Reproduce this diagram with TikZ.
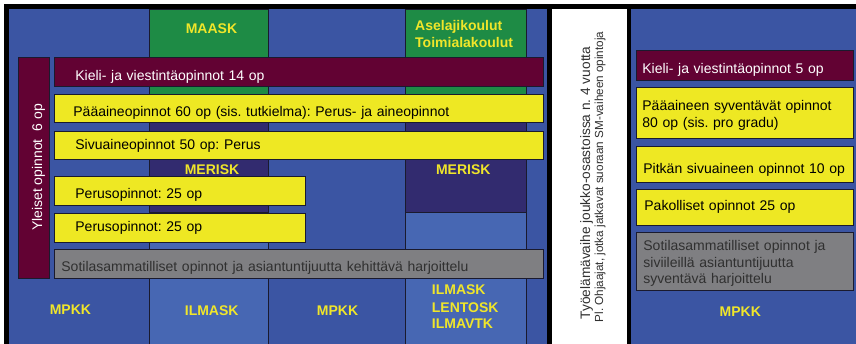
\documentclass[tikz,border=0pt]{standalone}
\usepackage{fontspec}
\setmainfont{Liberation Sans}
\frenchspacing
\definecolor{midblue}{HTML}{3B55A3}
\definecolor{liteblue}{HTML}{4767B3}
\definecolor{schoolgreen}{HTML}{1E8B45}
\definecolor{barmaroon}{HTML}{620233}
\definecolor{deeppurple}{HTML}{322B6F}
\definecolor{baryellow}{HTML}{EEE823}
\definecolor{bargray}{HTML}{7F7F82}
\definecolor{labelyellow}{HTML}{F0E62A}
\definecolor{edgeline}{HTML}{1A1A2E}
\definecolor{graytext}{HTML}{303030}
\begin{document}
\begin{tikzpicture}[x=1pt,y=-1pt,
  strip/.style={draw=edgeline, line width=0.8pt, anchor=north west, inner ysep=0pt, align=left, font=\fontsize{14}{17}\selectfont},
  redstrip/.style={strip, fill=barmaroon, text=white},
  yelstrip/.style={strip, fill=baryellow, text=black},
  graystrip/.style={strip, fill=bargray, text=graytext},
  school/.style={text=labelyellow, font=\bfseries\fontsize{14}{17}\selectfont, inner sep=0pt},
  col/.style={draw=edgeline, line width=0.8pt}
]
\useasboundingbox (0,0) rectangle (856,344);
\fill[white] (0,0) rectangle (856,344);
\fill[black] (4,4) rectangle (856,344);
% panels
\fill[midblue] (9,9) rectangle (547,344);
\fill[white] (552,9) rectangle (627,344);
\fill[midblue] (631,9) rectangle (856,344);
% school columns
\draw[col, fill=schoolgreen] (149,9) rectangle (268,110);
\draw[col, fill=deeppurple] (149,110) rectangle (268,212);
\draw[col, fill=liteblue] (149,212) rectangle (268,345);
\draw[col, fill=schoolgreen] (405,9) rectangle (526,110);
\draw[col, fill=deeppurple] (405,110) rectangle (526,212);
\draw[col, fill=liteblue] (405,212) rectangle (526,345);
% school labels
\node[school, anchor=base] (maask) at (211.5,33.3) {MAASK};
\node[school, anchor=base west] (asela) at (415,31) {Aselajikoulut};
\node[school, anchor=base west] (toimi) at (415,47.7) {Toimialakoulut};
\node[school, anchor=base] (merisk1) at (212,175) {MERISK};
\node[school, anchor=base] (merisk2) at (463.3,175) {MERISK};
\node[school, anchor=base] (mpkk1) at (70.4,315) {MPKK};
\node[school, anchor=base] (ilmask1) at (211.7,316) {ILMASK};
\node[school, anchor=base] (mpkk2) at (337.5,315.7) {MPKK};
\node[school, anchor=base west] (ilmask2) at (431.7,295) {ILMASK};
\node[school, anchor=base west] (lentosk) at (431.7,312.3) {LENTOSK};
\node[school, anchor=base west] (ilmavtk) at (431.7,329) {ILMAVTK};
\node[school, anchor=base] (mpkk3) at (740.3,316.7) {MPKK};
% left panel strips
\node[redstrip, rotate=90, anchor=center, minimum width=221pt, minimum height=31pt, inner sep=0pt, text height=17pt, text depth=0pt] (yleiset) at (33.5,167.5) {Yleiset opinnot\ \ 6 op};
\node[redstrip, minimum height=29pt, inner xsep=21pt, text width=447pt, text height=16.6pt, text depth=0pt] (kieliL) at (54,57) {Kieli- ja viestintäopinnot 14 op};
\node[yelstrip, minimum height=28pt, inner xsep=19pt, text width=451pt, text height=17pt, text depth=0pt] (paaL) at (54,94) {Pääaineopinnot 60 op (sis. tutkielma): Perus- ja aineopinnot};
\node[yelstrip, minimum height=28pt, inner xsep=21pt, text width=447pt, text height=9.2pt, text depth=0pt] (sivuL) at (54,131) {Sivuaineopinnot 50 op: Perus};
\node[yelstrip, minimum height=29pt, inner xsep=21pt, text width=209pt, text height=16pt, text depth=0pt] (perus1) at (54,176) {Perusopinnot: 25 op};
\node[yelstrip, minimum height=29pt, inner xsep=21pt, text width=209pt, text height=7.6pt, text depth=0pt] (perus2) at (54,213) {Perusopinnot: 25 op};
\node[graystrip, minimum height=29pt, inner xsep=7pt, text width=475pt, text height=15.8pt, text depth=0pt] (sotilasL) at (54,249) {Sotilasammatilliset opinnot ja asiantuntijuutta kehittävä harjoittelu};
% white panel texts
\node[rotate=90, anchor=base, font=\fontsize{13.7}{16}\selectfont, inner sep=0pt, text=graytext] (tyo) at (590,183) {Työelämävaihe joukko-osastoissa n. 4 vuotta};
\node[rotate=90, anchor=base, font=\fontsize{11.7}{14}\selectfont, inner sep=0pt, text=graytext] (pl) at (603,177) {Pl. Ohjaajat, jotka jatkavat suoraan SM-vaiheen opintoja};
% right panel strips
\node[redstrip, minimum height=30pt, inner xsep=6pt, text width=205pt, text height=15.4pt, text depth=0pt] (kieliR) at (636,50) {Kieli- ja viestintäopinnot 5 op};
\node[yelstrip, font=\fontsize{14}{17.3}\selectfont, minimum height=51pt, inner xsep=6pt, text width=205pt, text height=12pt, text depth=17pt] (paaR) at (636,87) {Pääaineen syventävät opinnot\\80 op (sis. pro gradu)};
\node[yelstrip, minimum height=36pt, inner xsep=7pt, text width=203pt, text height=18pt, text depth=0pt] (pitkaR) at (636,146) {\mbox{Pitkän sivuaineen opinnot 10 op}};
\node[yelstrip, minimum height=36pt, inner xsep=8pt, text width=201pt, text height=6.8pt, text depth=0pt] (pakolR) at (636,189) {Pakolliset opinnot 25 op};
\node[graystrip, font=\fontsize{14}{16.7}\selectfont, minimum height=58pt, inner xsep=7pt, text width=203pt, text height=10pt, text depth=32pt] (sotilasR) at (636,232) {Sotilasammatilliset opinnot ja\\siviileillä asiantuntijuutta\\syventävä harjoittelu};
\end{tikzpicture}
\end{document}
